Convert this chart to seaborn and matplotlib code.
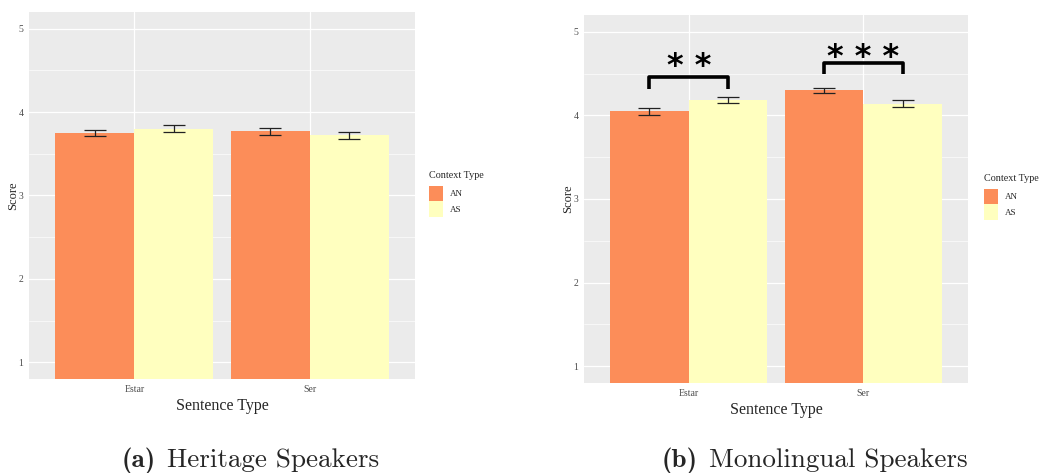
import pandas as pd
import seaborn as sns
import matplotlib.pyplot as plt
from matplotlib.ticker import MultipleLocator

sentence_types = ['Estar', 'Ser']
context_types = ['AN', 'AS']
palette = ['#FC8D59', '#FFFFBF']

# (a) heritage speakers
heritage_an = [3.75, 3.77]
heritage_as = [3.80, 3.72]
heritage_an_err = [0.035, 0.04]
heritage_as_err = [0.04, 0.042]

# (b) monolingual speakers
mono_an = [4.05, 4.30]
mono_as = [4.18, 4.14]
mono_an_err = [0.042, 0.03]
mono_as_err = [0.036, 0.043]

# significance brackets, monolingual panel only
sig_labels = ['* *', '* * *']
sig_low = [4.32, 4.50]
sig_high = [4.46, 4.63]
sig_text_y = [4.59, 4.69]

caption_tags = ['(a)', '(b)']
caption_texts = ['Heritage Speakers', 'Monolingual Speakers']


def make_df(an, as_):
    rows = []
    for ctx, vals in zip(context_types, [an, as_]):
        for st, v in zip(sentence_types, vals):
            rows.append({'Sentence Type': st, 'Context Type': ctx, 'Score': v})
    return pd.DataFrame(rows)


def draw_panel(ax, df, errs):
    sns.barplot(data=df, x='Sentence Type', y='Score', hue='Context Type',
                order=sentence_types, hue_order=context_types,
                palette=palette, saturation=1, width=0.9, errorbar=None,
                linewidth=0, edgecolor='none', ax=ax)
    bars = list(ax.containers)
    for container, err in zip(bars, errs):
        for bar, e in zip(container, err):
            x = bar.get_x() + bar.get_width() / 2
            ax.errorbar(x, bar.get_height(), yerr=e, color='#222222',
                        lw=0.9, capsize=8, capthick=0.9)
    ax.set_xlim(-0.6, 1.6)
    ax.set_ylim(0.8, 5.2)
    ax.yaxis.set_major_locator(MultipleLocator(1))
    ax.yaxis.set_minor_locator(MultipleLocator(0.5))
    ax.grid(which='major', color='white', lw=0.9)
    ax.yaxis.grid(which='minor', color='white', lw=0.45)
    ax.xaxis.grid(True, which='major', color='white', lw=0.9)
    ax.set_axisbelow(True)
    ax.tick_params(which='minor', length=0)
    ax.tick_params(which='major', length=2.5, width=0.6, color='#333333',
                   labelsize=7, labelcolor='#4D4D4D', pad=1.5)
    ax.set_xlabel('Sentence Type', fontsize=11.5, labelpad=3)
    ax.set_ylabel('Score', fontsize=9, labelpad=-0.5)
    for s in ax.spines.values():
        s.set_visible(False)
    return bars


sns.set_style('darkgrid', {'axes.facecolor': '#EBEBEB'})
plt.rcParams['font.family'] = ['Liberation Serif', 'DejaVu Serif']

W, H = 1043, 473
fig = plt.figure(figsize=(W / 100, H / 100), dpi=100)
ax1 = fig.add_axes([29 / W, 1 - 379 / H, 386 / W, 367 / H])
ax2 = fig.add_axes([584 / W, 1 - 383 / H, 384 / W, 368 / H])

draw_panel(ax1, make_df(heritage_an, heritage_as),
           [heritage_an_err, heritage_as_err])
bars2 = draw_panel(ax2, make_df(mono_an, mono_as), [mono_an_err, mono_as_err])

# brackets between AN and AS in each sentence type
for i, (lab, lo, hi, ty) in enumerate(zip(sig_labels, sig_low, sig_high, sig_text_y)):
    b_an = bars2[0][i]
    b_as = bars2[1][i]
    x0 = b_an.get_x() + b_an.get_width() / 2
    x1 = b_as.get_x() + b_as.get_width() / 2
    ax2.plot([x0, x0, x1, x1], [lo, hi, hi, lo], color='black', lw=2.6,
             solid_joinstyle='round', solid_capstyle='butt')
    ax2.text((x0 + x1) / 2, ty, lab, ha='center', va='center',
             fontsize=23, fontweight='bold', family='DejaVu Sans', color='black')

legend_pos = [(429, 171), (984, 174)]
for ax, (lx, ly) in zip([ax1, ax2], legend_pos):
    handles, labels = ax.get_legend_handles_labels()
    leg = ax.legend(handles, labels, title='Context Type', loc='upper left',
                    bbox_to_anchor=(lx / W, 1 - ly / H),
                    bbox_transform=fig.transFigure,
                    frameon=False, fontsize=6.5, title_fontsize=7.3, borderpad=0,
                    borderaxespad=0, labelspacing=0, handlelength=1.6,
                    handleheight=2.3, handletextpad=0.7, alignment='left')
    leg._legend_box.sep = 4

# captions: bold tag + roman text, centred together under each panel
renderer = fig.canvas.get_renderer()
for tag, txt, cx in zip(caption_tags, caption_texts, [250.5, 814.5]):
    t1 = fig.text(0, 1 - 467 / H, tag, va='baseline', fontsize=19.5, family='cmb10')
    t2 = fig.text(0, 1 - 467 / H, txt, va='baseline', fontsize=19.5, family='cmr10')
    w1 = t1.get_window_extent(renderer).width
    w2 = t2.get_window_extent(renderer).width
    gap = 11
    x0 = cx - (w1 + gap + w2) / 2
    t1.set_x(x0 / W)
    t2.set_x((x0 + w1 + gap) / W)

fig.savefig('out.png', dpi=100)
